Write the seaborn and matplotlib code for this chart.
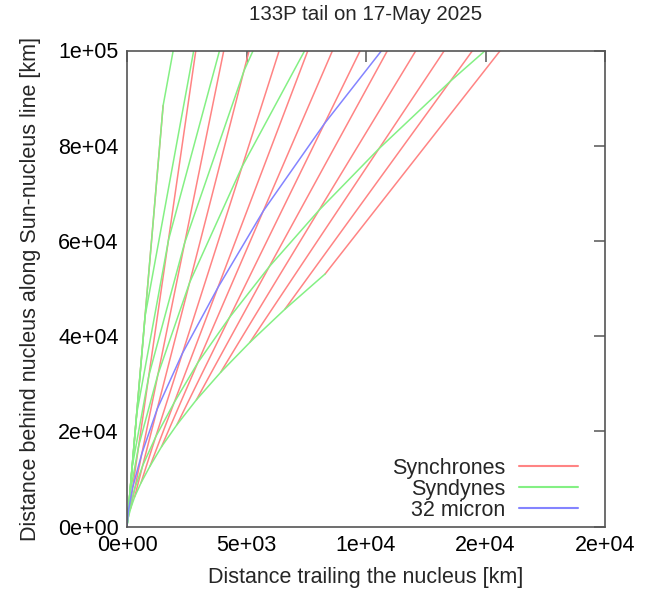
import matplotlib
matplotlib.use("Agg")
import matplotlib.pyplot as plt
from matplotlib.lines import Line2D
import seaborn as sns
import pandas as pd

# ---- synchrones: each runs from the smallest-beta syndyne outward (km) ----
sync_start_x = [14, 60, 157, 320, 585, 962, 1443, 2090, 2902, 3916, 5143, 6600, 8292]
sync_start_y = [819, 2079, 3885, 6258, 9198, 12705, 16779, 21420, 26628, 32403, 38724, 45633, 53088]
sync_end_x = [1512, 2880, 4050, 5110, 6370, 7570, 8600, 9760, 10900, 12090, 13280, 14460, 15620]
sync_end_y = [88452, 100000, 100000, 100000, 100000, 100000, 100000, 100000,
              100000, 100000, 100000, 100000, 100000]

# ---- syndynes: nucleus first, then one node per synchrone (km) ----
syndyne_1_x = [0, 14, 60, 157, 320, 585, 962, 1443, 2090, 2902, 3916, 5143, 6600, 8292]
syndyne_1_y = [0, 819, 2079, 3885, 6258, 9198, 12705, 16779, 21420, 26628, 32403, 38724, 45633, 53088]
syndyne_2_x = [0, 29, 123, 322, 656, 1199, 1972, 2958, 4285, 5949, 8028, 10543, 13530, 16999]
syndyne_2_y = [0, 1679, 4262, 7964, 12829, 18856, 26045, 34397, 43911, 54587, 66426, 79384, 93548, 108830]
syndyne_3_x = [0, 115, 492, 1287, 2624, 4797, 7888]
syndyne_3_y = [0, 6716, 17048, 31857, 51316, 75424, 104181]
syndyne_4_x = [0, 214, 918, 2402, 4896, 8951]
syndyne_4_y = [0, 12531, 31809, 59441, 95747, 140729]
syndyne_5_x = [0, 406, 1740, 4553]
syndyne_5_y = [0, 23751, 60291, 112665]
syndyne_6_x = [0, 756, 3240]
syndyne_6_y = [0, 44226, 112266]
syndyne_7_x = [0, 1512, 6480]
syndyne_7_y = [0, 88452, 224532]

# ---- 32 micron grain syndyne (km) ----
micron32_x = [0, 55, 237, 620, 1264, 2311, 3800, 5700, 8256, 11463]
micron32_y = [0, 3235, 8212, 15346, 24719, 36332, 50185, 66277, 84609, 105181]

x_ticks = [0, 5000, 10000, 15000, 20000]
x_tick_labels = ["0e+00", "5e+03", "1e+04", "2e+04", "2e+04"]
y_ticks = [0, 20000, 40000, 60000, 80000, 100000]
y_tick_labels = ["0e+00", "2e+04", "4e+04", "6e+04", "8e+04", "1e+05"]

legend_labels = ["Synchrones", "Syndynes", "32 micron"]
title_text = "133P tail on 17-May 2025"
x_label = "Distance trailing the nucleus [km]"
y_label = "Distance behind nucleus along Sun-nucleus line [km]"

RED = "#ff8484"
GREEN = "#84f084"
BLUE = "#8484ff"
FRAME = "#555555"
FS = 15.5

# long-format tables
sync_rows = []
for i in range(len(sync_start_x)):
    sync_rows.append({"line": i, "x": sync_start_x[i], "y": sync_start_y[i]})
    sync_rows.append({"line": i, "x": sync_end_x[i], "y": sync_end_y[i]})
sync_df = pd.DataFrame(sync_rows)

syndynes = [
    (syndyne_1_x, syndyne_1_y), (syndyne_2_x, syndyne_2_y), (syndyne_3_x, syndyne_3_y),
    (syndyne_4_x, syndyne_4_y), (syndyne_5_x, syndyne_5_y), (syndyne_6_x, syndyne_6_y),
    (syndyne_7_x, syndyne_7_y),
]
synd_rows = []
for j, (xs, ys) in enumerate(syndynes):
    for xv, yv in zip(xs, ys):
        synd_rows.append({"line": j, "x": xv, "y": yv})
synd_df = pd.DataFrame(synd_rows)

micron_df = pd.DataFrame({"line": 0, "x": micron32_x, "y": micron32_y})

sns.set_theme(style="white")
plt.rcParams["font.family"] = ["Liberation Sans", "DejaVu Sans"]

fig = plt.figure(figsize=(6.51, 5.97), dpi=100)
ax = fig.add_axes([127 / 651, 1 - 526.7 / 597, (605 - 127) / 651, (526.7 - 50.5) / 597])

sns.lineplot(data=sync_df, x="x", y="y", units="line", estimator=None, sort=False,
             color=RED, lw=1.1, legend=False, ax=ax)
sns.lineplot(data=synd_df, x="x", y="y", units="line", estimator=None, sort=False,
             color=GREEN, lw=1.1, legend=False, ax=ax)
sns.lineplot(data=micron_df, x="x", y="y", units="line", estimator=None, sort=False,
             color=BLUE, lw=1.1, legend=False, ax=ax)

ax.set_xlim(0, 20000)
ax.set_ylim(0, 100000)
ax.set_xticks(x_ticks)
ax.set_xticklabels(x_tick_labels)
ax.set_yticks(y_ticks)
ax.set_yticklabels(y_tick_labels)
ax.tick_params(direction="in", length=8, width=1.1, color=FRAME, top=True, right=True,
               labelsize=FS, labelcolor="black", pad=6)
for sp in ax.spines.values():
    sp.set_color(FRAME)
    sp.set_linewidth(1.2)
ax.set_xlabel("")
ax.set_ylabel("")

handles = [Line2D([], [], color=c, lw=1.5) for c in (RED, GREEN, BLUE)]
ax.legend(handles, legend_labels, loc="lower right", bbox_to_anchor=(0.944, 0.012),
          markerfirst=False, frameon=False, fontsize=FS, handlelength=2.75,
          handletextpad=0.65, labelspacing=0.0, borderpad=0, borderaxespad=0)

fig.text(366 / 651, 1 - 15 / 597, title_text, ha="center", va="center", fontsize=14.8)
fig.text(366 / 651, 1 - 578 / 597, x_label, ha="center", va="center", fontsize=FS)
fig.text(31 / 651, 1 - 289 / 597, y_label, ha="center", va="center", rotation=90, fontsize=FS)

fig.savefig("out.png", dpi=100, facecolor="white")
